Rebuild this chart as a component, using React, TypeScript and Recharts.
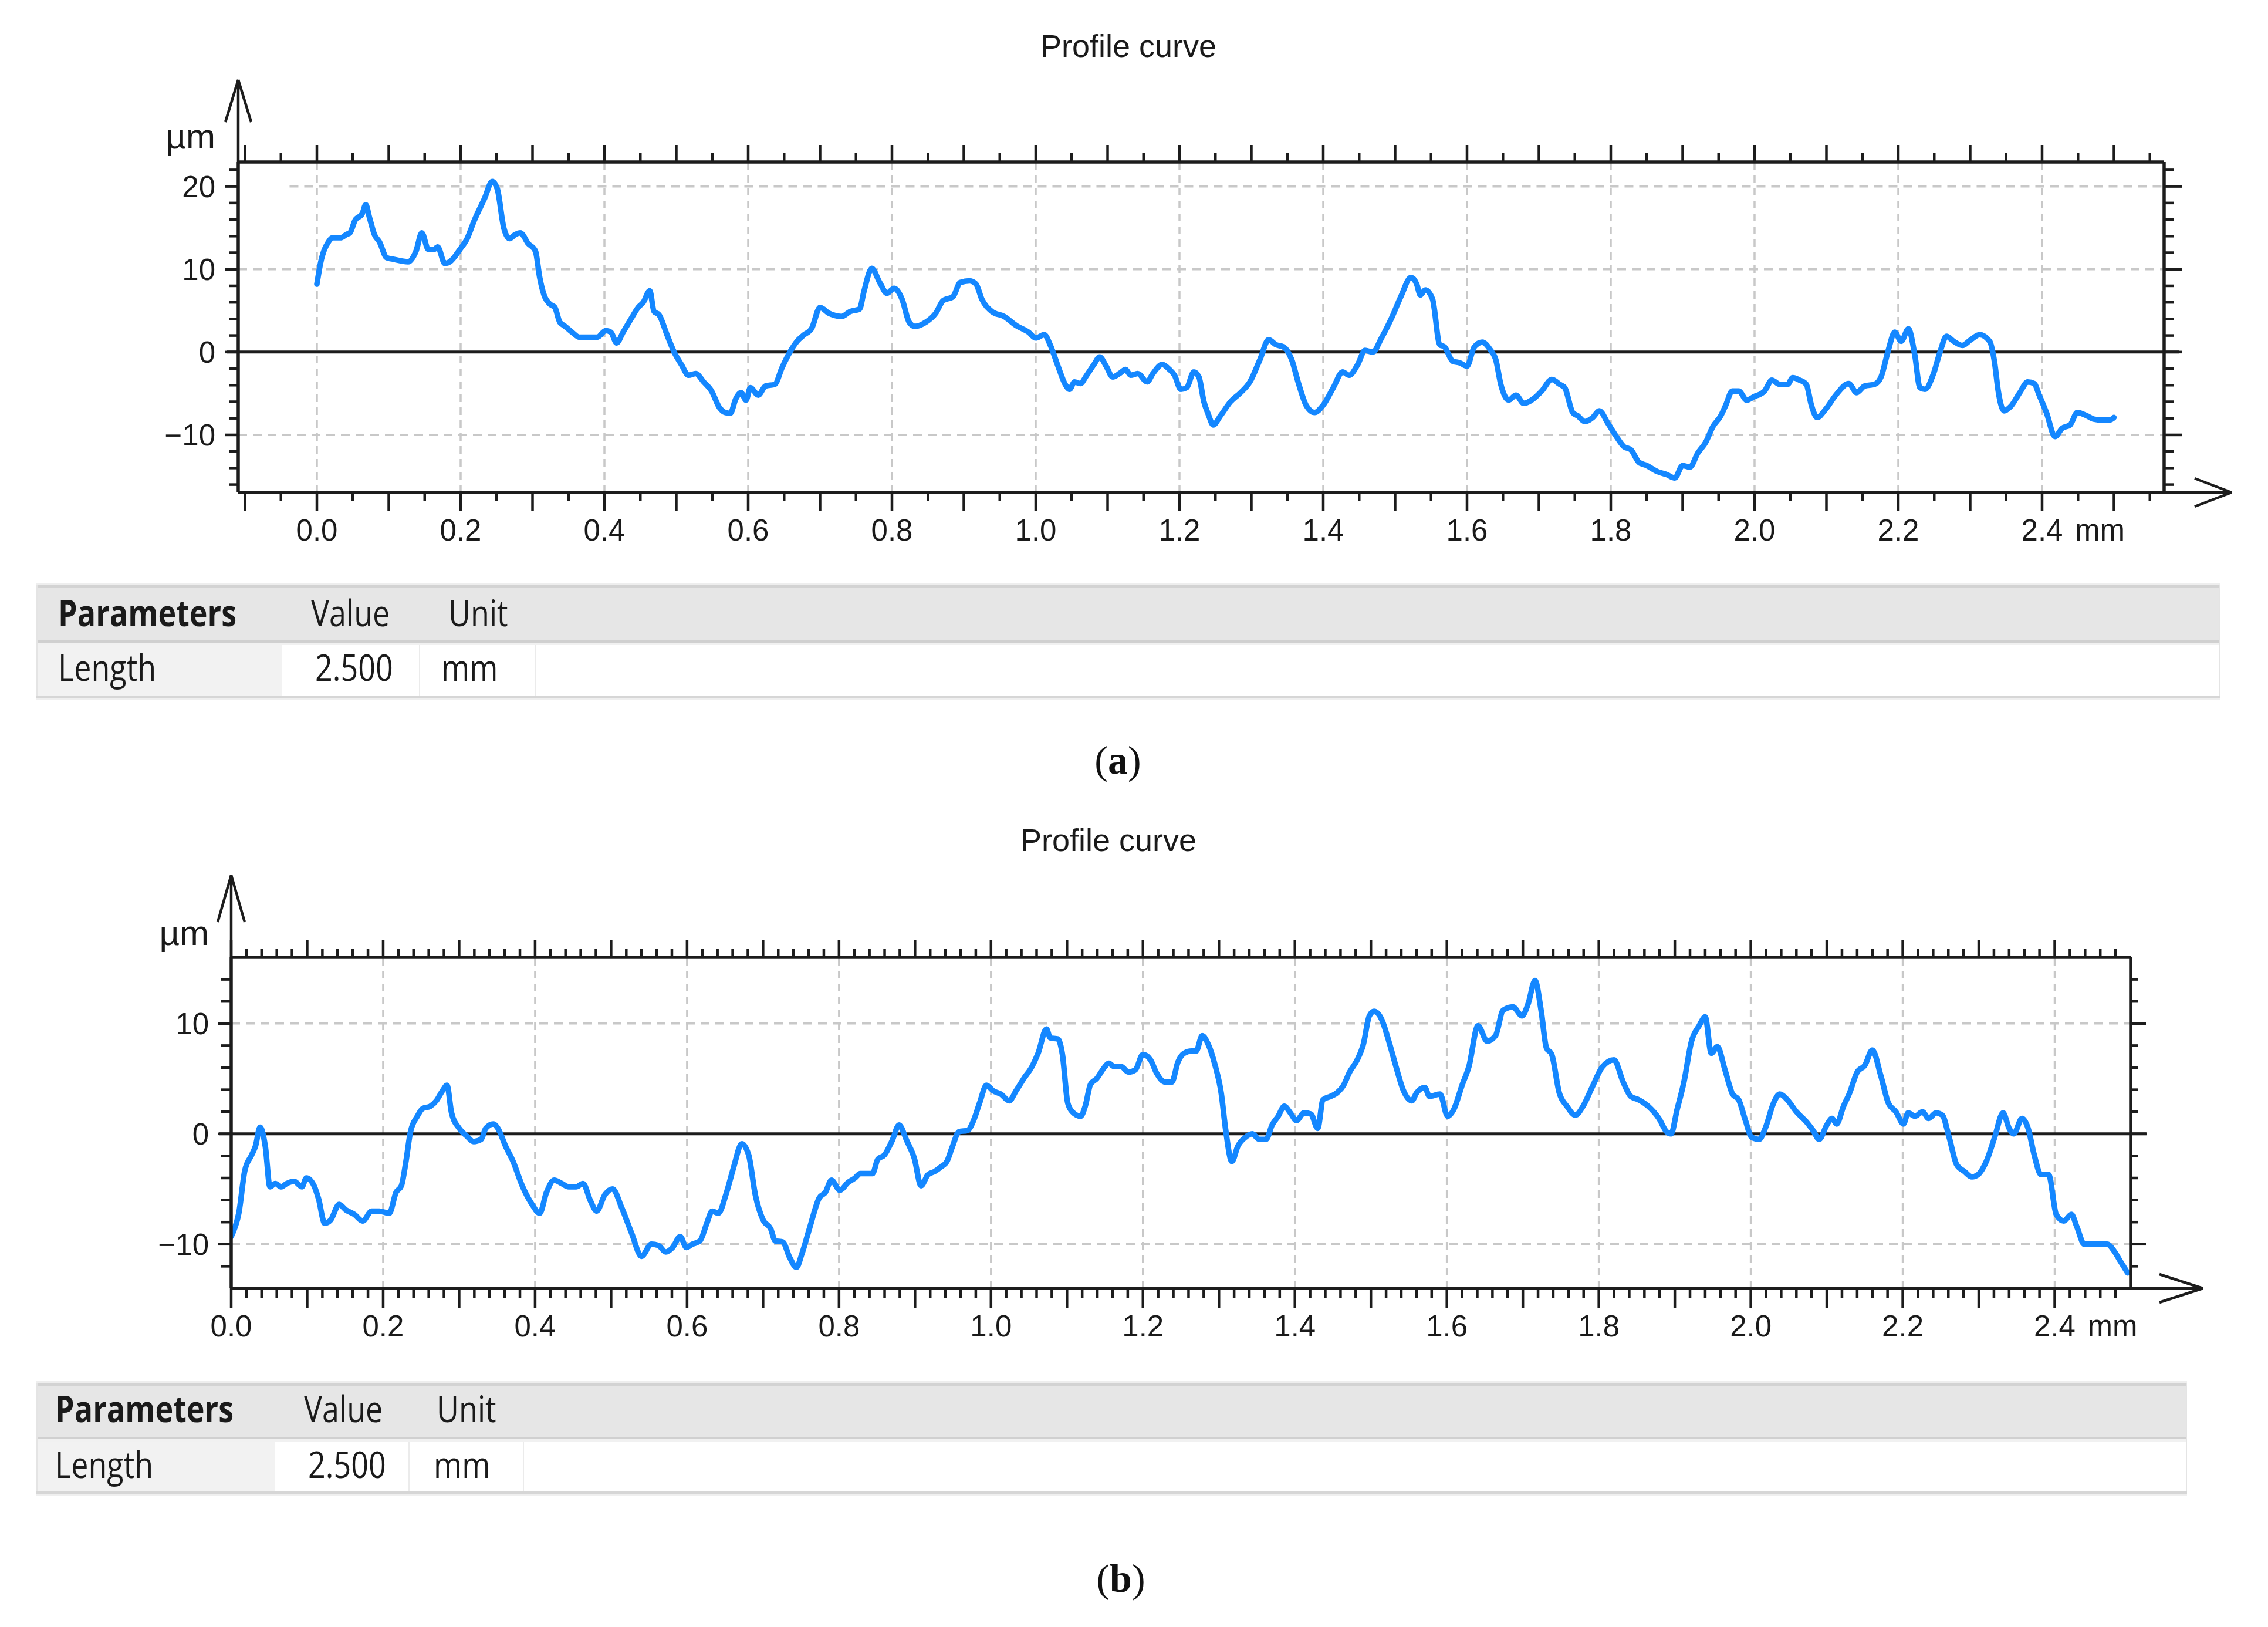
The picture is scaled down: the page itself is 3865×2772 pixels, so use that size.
import React from 'react';
import { LineChart, Line, XAxis, YAxis, ReferenceLine } from 'recharts';

const PAGE_W = 3865;
const PAGE_H = 2772;
const INK = '#1c1c1c';
const GRID = '#c8c8c8';
const BLUE = '#1487ff';
const AXIS_FONT = '"Liberation Sans", Arial, sans-serif';
const TABLE_FONT = '"Open Sans", "Noto Sans", sans-serif';

// profile (a): position in mm, height in µm
const profileAX = [
  0.0, 0.005, 0.016, 0.022, 0.033, 0.041, 0.046, 0.053, 0.063, 0.068, 0.073, 0.08, 0.087, 0.097, 0.107, 0.127,
  0.138, 0.146, 0.155, 0.163, 0.168, 0.178, 0.185, 0.199, 0.209, 0.219, 0.233, 0.244, 0.251, 0.26, 0.268, 0.276,
  0.283, 0.294, 0.304, 0.31, 0.316, 0.324, 0.331, 0.338, 0.344, 0.355, 0.365, 0.378, 0.39, 0.402, 0.409, 0.417,
  0.426, 0.439, 0.447, 0.454, 0.463, 0.469, 0.476, 0.487, 0.497, 0.507, 0.517, 0.527, 0.538, 0.549, 0.56, 0.568,
  0.575, 0.583, 0.59, 0.597, 0.603, 0.614, 0.624, 0.637, 0.647, 0.658, 0.668, 0.678, 0.688, 0.7, 0.712, 0.73,
  0.742, 0.755, 0.761, 0.772, 0.783, 0.793, 0.803, 0.814, 0.824, 0.832, 0.847, 0.861, 0.871, 0.885, 0.895, 0.908,
  0.917, 0.925, 0.939, 0.956, 0.973, 0.99, 1.0, 1.012, 1.02, 1.031, 1.041, 1.047, 1.054, 1.062, 1.071, 1.081,
  1.089, 1.098, 1.107, 1.118, 1.125, 1.132, 1.142, 1.155, 1.163, 1.176, 1.186, 1.193, 1.202, 1.21, 1.22, 1.227,
  1.234, 1.24, 1.247, 1.257, 1.271, 1.285, 1.298, 1.312, 1.324, 1.334, 1.345, 1.356, 1.366, 1.376, 1.388, 1.4,
  1.414, 1.427, 1.436, 1.448, 1.458, 1.469, 1.481, 1.495, 1.508, 1.522, 1.53, 1.535, 1.542, 1.552, 1.562, 1.569,
  1.58, 1.59, 1.6, 1.61, 1.621, 1.633, 1.64, 1.647, 1.658, 1.668, 1.679, 1.693, 1.704, 1.718, 1.729, 1.736,
  1.747, 1.754, 1.764, 1.775, 1.784, 1.796, 1.807, 1.818, 1.828, 1.839, 1.85, 1.864, 1.878, 1.889, 1.9, 1.91,
  1.921, 1.932, 1.942, 1.953, 1.96, 1.969, 1.978, 1.989, 1.999, 2.014, 2.024, 2.035, 2.046, 2.053, 2.063, 2.072,
  2.079, 2.087, 2.099, 2.113, 2.131, 2.142, 2.153, 2.167, 2.176, 2.186, 2.195, 2.204, 2.214, 2.223, 2.23, 2.237,
  2.249, 2.258, 2.267, 2.277, 2.289, 2.301, 2.313, 2.327, 2.334, 2.339, 2.347, 2.356, 2.369, 2.38, 2.389, 2.396,
  2.406, 2.418, 2.428, 2.439, 2.449, 2.46, 2.472, 2.483, 2.494, 2.5,
];
const profileAY = [
  8.2, 10.7, 13.3, 13.8, 13.8, 14.2, 14.4, 15.9, 16.7, 17.8, 16.3, 14.2, 13.3, 11.4, 11.2, 10.9,
  12.2, 14.4, 12.4, 12.4, 12.7, 10.7, 10.9, 12.4, 13.7, 15.9, 18.5, 20.6, 19.7, 15.0, 13.7, 14.2,
  14.4, 13.1, 12.2, 9.0, 6.9, 5.8, 5.4, 3.6, 3.2, 2.4, 1.8, 1.8, 1.8, 2.6, 2.4, 1.1,
  2.4, 4.3, 5.4, 6.0, 7.4, 4.9, 4.5, 2.1, 0.0, -1.5, -2.8, -2.6, -3.6, -4.7, -6.7, -7.3,
  -7.4, -5.6, -4.9, -5.8, -4.3, -5.2, -4.1, -3.9, -1.9, 0.0, 1.3, 2.1, 2.8, 5.4, 4.7, 4.3,
  4.9, 5.2, 7.3, 10.1, 8.4, 7.1, 7.7, 6.4, 3.6, 3.1, 3.6, 4.7, 6.2, 6.7, 8.4, 8.6,
  8.2, 6.4, 4.9, 4.3, 3.2, 2.4, 1.7, 2.1, 0.9, -1.7, -3.9, -4.5, -3.6, -3.8, -2.8, -1.5,
  -0.6, -1.7, -3.0, -2.5, -2.1, -2.8, -2.6, -3.6, -2.6, -1.5, -2.1, -2.8, -4.5, -4.3, -2.4, -3.0,
  -6.0, -7.5, -8.8, -7.7, -6.0, -4.9, -3.6, -0.9, 1.5, 0.9, 0.6, -0.9, -3.9, -6.4, -7.3, -6.4,
  -4.3, -2.4, -2.8, -1.5, 0.2, 0.0, 1.7, 4.1, 6.7, 9.0, 8.2, 6.9, 7.5, 6.4, 0.9, 0.6,
  -1.1, -1.3, -1.7, 0.6, 1.2, 0.2, -0.9, -3.9, -5.8, -5.2, -6.2, -5.6, -4.7, -3.3, -3.9, -4.3,
  -7.3, -7.7, -8.4, -7.9, -7.1, -8.6, -10.1, -11.4, -11.8, -13.3, -13.7, -14.4, -14.8, -15.2, -13.7, -13.9,
  -12.2, -10.9, -9.0, -7.7, -6.4, -4.7, -4.7, -5.8, -5.4, -4.7, -3.4, -3.9, -3.9, -3.1, -3.4, -3.9,
  -6.4, -7.9, -6.9, -5.2, -3.8, -4.9, -4.1, -3.9, -3.0, 0.2, 2.4, 1.3, 2.8, -0.4, -4.3, -4.5,
  -2.6, 0.0, 1.9, 1.3, 0.8, 1.5, 2.1, 1.3, -1.3, -4.7, -7.1, -6.6, -4.9, -3.6, -3.8, -5.2,
  -7.3, -10.2, -9.2, -8.8, -7.3, -7.6, -8.1, -8.2, -8.2, -7.9,
];

// profile (b)
const profileBX = [
  0.0, 0.002, 0.01, 0.018, 0.027, 0.032, 0.038, 0.045, 0.051, 0.058, 0.066, 0.073, 0.083, 0.093, 0.099, 0.109,
  0.115, 0.123, 0.131, 0.142, 0.151, 0.162, 0.173, 0.185, 0.195, 0.208, 0.217, 0.224, 0.23, 0.236, 0.245, 0.252,
  0.262, 0.27, 0.278, 0.284, 0.29, 0.3, 0.31, 0.319, 0.329, 0.335, 0.345, 0.351, 0.361, 0.371, 0.383, 0.396,
  0.406, 0.415, 0.425, 0.435, 0.444, 0.454, 0.463, 0.473, 0.481, 0.492, 0.502, 0.514, 0.527, 0.54, 0.553, 0.562,
  0.572, 0.581, 0.591, 0.599, 0.607, 0.617, 0.626, 0.633, 0.641, 0.652, 0.661, 0.672, 0.681, 0.69, 0.7, 0.71,
  0.716, 0.726, 0.735, 0.744, 0.751, 0.761, 0.774, 0.782, 0.79, 0.801, 0.812, 0.821, 0.828, 0.844, 0.851, 0.86,
  0.87, 0.879, 0.889, 0.899, 0.908, 0.917, 0.926, 0.934, 0.942, 0.949, 0.958, 0.969, 0.977, 0.985, 0.994, 1.003,
  1.013, 1.024, 1.033, 1.043, 1.054, 1.062, 1.073, 1.078, 1.088, 1.094, 1.101, 1.107, 1.118, 1.124, 1.131, 1.139,
  1.149, 1.155, 1.162, 1.171, 1.181, 1.19, 1.2, 1.21, 1.218, 1.229, 1.238, 1.246, 1.254, 1.264, 1.27, 1.278,
  1.286, 1.295, 1.303, 1.309, 1.317, 1.325, 1.335, 1.344, 1.353, 1.362, 1.37, 1.378, 1.386, 1.394, 1.402, 1.412,
  1.421, 1.43, 1.437, 1.447, 1.455, 1.464, 1.472, 1.482, 1.49, 1.498, 1.504, 1.514, 1.524, 1.533, 1.543, 1.554,
  1.56, 1.571, 1.577, 1.591, 1.601, 1.609, 1.62, 1.629, 1.641, 1.653, 1.664, 1.674, 1.687, 1.699, 1.707, 1.716,
  1.724, 1.731, 1.738, 1.748, 1.758, 1.769, 1.78, 1.791, 1.805, 1.82, 1.832, 1.842, 1.852, 1.865, 1.879, 1.889,
  1.895, 1.903, 1.912, 1.922, 1.932, 1.94, 1.948, 1.956, 1.966, 1.976, 1.984, 1.993, 2.001, 2.011, 2.019, 2.03,
  2.038, 2.048, 2.06, 2.073, 2.082, 2.09, 2.1, 2.107, 2.113, 2.122, 2.13, 2.14, 2.15, 2.16, 2.171, 2.181,
  2.191, 2.201, 2.207, 2.216, 2.226, 2.234, 2.244, 2.252, 2.261, 2.271, 2.281, 2.291, 2.299, 2.31, 2.321, 2.332,
  2.34, 2.346, 2.357, 2.365, 2.373, 2.382, 2.392, 2.402, 2.412, 2.422, 2.429, 2.439, 2.469, 2.478, 2.486, 2.496,
];
const profileBY = [
  -9.3, -9.0, -7.2, -3.3, -1.9, -1.1, 0.6, -1.2, -4.8, -4.5, -4.8, -4.5, -4.3, -4.8, -4.0, -4.7,
  -5.9, -8.1, -7.8, -6.4, -6.9, -7.3, -7.9, -7.0, -7.0, -7.2, -5.3, -4.7, -2.5, 0.2, 1.6, 2.3,
  2.5, 3.0, 3.9, 4.4, 1.9, 0.5, -0.2, -0.7, -0.5, 0.5, 0.9, 0.5, -1.1, -2.5, -4.7, -6.4,
  -7.2, -5.3, -4.2, -4.5, -4.8, -4.8, -4.5, -6.1, -7.0, -5.5, -5.0, -6.7, -9.0, -11.1, -10.0, -10.1,
  -10.7, -10.3, -9.3, -10.3, -10.0, -9.7, -8.1, -7.0, -7.2, -5.3, -3.1, -0.9, -1.9, -5.6, -7.8, -8.6,
  -9.7, -9.8, -11.2, -12.1, -10.9, -8.6, -5.8, -5.3, -4.2, -5.1, -4.4, -4.0, -3.6, -3.6, -2.3, -1.9,
  -0.6, 0.8, -0.6, -2.2, -4.7, -3.7, -3.4, -3.0, -2.5, -1.2, 0.2, 0.3, 1.2, 2.8, 4.4, 3.9,
  3.6, 3.0, 3.9, 5.0, 6.1, 7.3, 9.5, 8.7, 8.6, 7.2, 2.8, 2.0, 1.6, 2.5, 4.5, 5.0,
  6.0, 6.4, 6.1, 6.1, 5.6, 5.8, 7.2, 6.7, 5.5, 4.7, 4.7, 6.5, 7.3, 7.5, 7.5, 8.9,
  8.1, 6.2, 3.7, 0.3, -2.5, -1.1, -0.3, 0.0, -0.5, -0.5, 0.8, 1.6, 2.5, 1.9, 1.2, 1.9,
  1.8, 0.5, 3.1, 3.4, 3.7, 4.4, 5.6, 6.7, 8.1, 10.7, 11.1, 10.4, 8.3, 6.1, 3.9, 3.0,
  3.7, 4.2, 3.4, 3.6, 1.6, 2.2, 4.4, 6.1, 9.8, 8.4, 8.9, 11.2, 11.5, 10.7, 11.8, 13.9,
  11.2, 7.8, 7.2, 3.7, 2.5, 1.7, 2.6, 4.2, 6.1, 6.7, 4.7, 3.4, 3.1, 2.5, 1.4, 0.2,
  0.0, 2.2, 4.7, 8.4, 9.8, 10.6, 7.3, 7.9, 5.8, 3.6, 3.1, 1.2, -0.3, -0.5, 0.5, 2.8,
  3.6, 3.1, 2.0, 1.1, 0.3, -0.5, 0.8, 1.4, 0.9, 2.5, 3.7, 5.6, 6.2, 7.6, 5.3, 2.8,
  2.0, 0.9, 1.9, 1.6, 2.0, 1.4, 1.9, 1.7, -0.3, -2.8, -3.4, -3.9, -3.7, -2.5, -0.3, 1.9,
  0.5, 0.0, 1.4, 0.5, -1.9, -3.7, -3.7, -7.3, -7.9, -7.3, -8.4, -10.0, -10.0, -10.6, -11.5, -12.6,
];

const gridXA = [0, 0.2, 0.4, 0.6, 0.8, 1.0, 1.2, 1.4, 1.6, 1.8, 2.0, 2.2, 2.4];
const gridYA = [20, 10, -10];
const gridStartA = [-0.038, null, null];
const gridXB = [0.2, 0.4, 0.6, 0.8, 1.0, 1.2, 1.4, 1.6, 1.8, 2.0, 2.2, 2.4];
const gridYB = [10, -10];
const gridStartB = [null, null];

const tableHead = ['Parameters', 'Value', 'Unit'];
const tableRow = ['Length', '2.500', 'mm'];

const steps = (from: number, to: number, step: number) => {
  const out: number[] = [];
  const n = Math.round((to - from) / step);
  for (let i = 0; i <= n; i++) out.push(Math.round((from + i * step) * 1000) / 1000);
  return out;
};
const isMultiple = (v: number, step: number) => Math.abs(v / step - Math.round(v / step)) < 1e-6;

const xTicksA = steps(-0.1, 2.55, 0.05);
const yTicksA = steps(-16, 22, 2);
const xTicksB = steps(0, 2.48, 0.02);
const yTicksB = steps(-12, 14, 2);

const xLabel = (v: number) => (isMultiple(v, 0.2) && v > -1e-6 && v < 2.41 ? v.toFixed(1) : null);
const yLabel = (v: number) => (isMultiple(v, 10) ? (v < 0 ? '\u2212' + Math.abs(v) : String(v)) : null);
const xMajor = (v: number) => isMultiple(v, 0.1);
const yMajor = (v: number) => isMultiple(v, 10);

const chartA = {
  top: 0,
  height: 1000,
  plot: { left: 406, right: 3688, top: 276, bottom: 839 },
  xDomain: [-0.1094, 2.5698],
  yDomain: [-16.95, 22.95],
  tickLen: { bottom: [31, 15], top: [29, 16], left: [22, 16], right: [30, 17] },
  yLabelGap: 39,
  yArrow: { len: 140, back: 72, half: 22 },
  xArrow: { len: 115, back: 63, half: 24 },
  zeroExt: [20, 26],
};
const chartB = {
  top: 1300,
  height: 1000,
  plot: { left: 394, right: 3631, top: 1631, bottom: 2195 },
  xDomain: [0, 2.5],
  yDomain: [-14, 16],
  tickLen: { bottom: [33, 17], top: [29, 14], left: [23, 17], right: [26, 13] },
  yLabelGap: 38,
  yArrow: { len: 140, back: 80, half: 23 },
  xArrow: { len: 123, back: 74, half: 24 },
  zeroExt: [21, 27],
};

function FrameTick(props: any) {
  const { x = 0, y = 0, payload, tickSide, lens, majorTest, labelFn, labelGap, unitLabel } = props;
  const v: number = payload ? payload.value : 0;
  const len = majorTest(v) ? lens[0] : lens[1];
  const text = labelFn ? labelFn(v) : null;
  let x2 = x;
  let y2 = y;
  if (tickSide === 'bottom') y2 = y + len;
  if (tickSide === 'top') y2 = y - len;
  if (tickSide === 'left') x2 = x - len;
  if (tickSide === 'right') x2 = x + len;
  const textStyle = { fontFamily: AXIS_FONT, fontSize: 51, fill: '#1a1a1a' };
  return (
    <g>
      <line x1={x} y1={y} x2={x2} y2={y2} stroke={INK} strokeWidth={4.5} />
      {text !== null && tickSide === 'bottom' && (
        <text x={x} y={y + 82} textAnchor="middle" style={textStyle}>{text}</text>
      )}
      {text !== null && tickSide === 'bottom' && unitLabel && Math.abs(v - 2.4) < 1e-6 && (
        <text x={x + 56} y={y + 82} textAnchor="start" style={textStyle}>{unitLabel}</text>
      )}
      {text !== null && tickSide === 'left' && (
        <text x={x - labelGap} y={y + 18} textAnchor="end" style={textStyle}>{text}</text>
      )}
    </g>
  );
}

function ProfileChart({ cfg, xs, ys, gridX, gridY, gridStart, xTicks, yTicks }: any) {
  const data = xs.map((x: number, i: number) => ({ x, y: ys[i] }));
  const { plot, xDomain, yDomain, tickLen } = cfg;
  const leftW = 200;
  const rightW = 80;
  const topH = 60;
  const bottomH = 100;
  const margin = {
    left: plot.left - leftW,
    right: PAGE_W - plot.right - rightW,
    top: plot.top - cfg.top - topH,
    bottom: cfg.top + cfg.height - plot.bottom - bottomH,
  };
  const [x0, x1] = xDomain;
  const [y0, y1] = yDomain;
  const ux = (x1 - x0) / (plot.right - plot.left);
  const uy = (y1 - y0) / (plot.bottom - plot.top);
  const yTip = y1 + cfg.yArrow.len * uy;
  const xTip = x1 + cfg.xArrow.len * ux;
  const arrowSegs = [
    [{ x: x0, y: y1 }, { x: x0, y: yTip }],
    [{ x: x0 - cfg.yArrow.half * ux, y: yTip - cfg.yArrow.back * uy }, { x: x0, y: yTip }],
    [{ x: x0 + cfg.yArrow.half * ux, y: yTip - cfg.yArrow.back * uy }, { x: x0, y: yTip }],
    [{ x: x1, y: y0 }, { x: xTip, y: y0 }],
    [{ x: xTip - cfg.xArrow.back * ux, y: y0 + cfg.xArrow.half * uy }, { x: xTip, y: y0 }],
    [{ x: xTip - cfg.xArrow.back * ux, y: y0 - cfg.xArrow.half * uy }, { x: xTip, y: y0 }],
  ];
  const axisLine = { stroke: INK, strokeWidth: 5.5 };

  return (
    <div style={{ position: 'absolute', left: 0, top: cfg.top }}>
      <LineChart width={PAGE_W} height={cfg.height} data={data} margin={margin}>
        <XAxis
          xAxisId="b" type="number" dataKey="x" domain={xDomain} allowDataOverflow ticks={xTicks}
          interval={0} tickSize={0} tickMargin={0} tickLine={false} axisLine={axisLine} height={bottomH}
          tick={<FrameTick tickSide="bottom" lens={tickLen.bottom} majorTest={xMajor} labelFn={xLabel} unitLabel="mm" />}
        />
        <XAxis
          xAxisId="t" orientation="top" type="number" dataKey="x" domain={xDomain} allowDataOverflow ticks={xTicks}
          interval={0} tickSize={0} tickMargin={0} tickLine={false} axisLine={axisLine} height={topH}
          tick={<FrameTick tickSide="top" lens={tickLen.top} majorTest={xMajor} />}
        />
        <YAxis
          yAxisId="l" type="number" domain={yDomain} allowDataOverflow ticks={yTicks}
          interval={0} tickSize={0} tickMargin={0} tickLine={false} axisLine={axisLine} width={leftW}
          tick={<FrameTick tickSide="left" lens={tickLen.left} majorTest={yMajor} labelFn={yLabel} labelGap={cfg.yLabelGap} />}
        />
        <YAxis
          yAxisId="r" orientation="right" type="number" domain={yDomain} allowDataOverflow ticks={yTicks}
          interval={0} tickSize={0} tickMargin={0} tickLine={false} axisLine={axisLine} width={rightW}
          tick={<FrameTick tickSide="right" lens={tickLen.right} majorTest={yMajor} />}
        />
        {gridX.map((v: number) => (
          <ReferenceLine key={'gx' + v} xAxisId="b" yAxisId="l" x={v} stroke={GRID} strokeWidth={3.5} strokeDasharray="13 9" />
        ))}
        {gridY.map((v: number, i: number) => (
          <ReferenceLine
            key={'gy' + v} xAxisId="b" yAxisId="l" stroke={GRID} strokeWidth={3.5} strokeDasharray="15 10"
            segment={[{ x: gridStart[i] ?? x0, y: v }, { x: x1, y: v }]}
          />
        ))}
        <ReferenceLine
          xAxisId="b" yAxisId="l" ifOverflow="visible" stroke={INK} strokeWidth={5}
          segment={[{ x: x0 - cfg.zeroExt[0] * ux, y: 0 }, { x: x1 + cfg.zeroExt[1] * ux, y: 0 }]}
        />
        {arrowSegs.map((seg, i) => (
          <ReferenceLine key={'ar' + i} xAxisId="b" yAxisId="l" ifOverflow="visible" stroke={INK} strokeWidth={4.5} segment={seg} />
        ))}
        <Line
          xAxisId="b" yAxisId="l" type="monotone" dataKey="y" stroke={BLUE} strokeWidth={9.5} dot={false}
          strokeLinejoin="round" strokeLinecap="round" isAnimationActive={false}
        />
      </LineChart>
    </div>
  );
}

function ParamTable({ t }: any) {
  const w = t.right - t.left;
  const rowTop = t.headBottom + 8;
  const bold = { fontFamily: TABLE_FONT, fontSize: 62, fontWeight: 700, fill: '#1a1a1a' };
  const normal = { fontFamily: TABLE_FONT, fontSize: 62, fontWeight: 400, fill: '#1a1a1a' };
  return (
    <g>
      <rect x={t.left} y={t.headTop - 4} width={w} height={4} fill="#eeeeee" />
      <rect x={t.left} y={t.headTop} width={w} height={5} fill="#d3d3d3" />
      <rect x={t.left} y={t.headTop + 5} width={w} height={t.headBottom - t.headTop - 5} fill="#e6e6e6" />
      <rect x={t.left} y={t.headBottom} width={w} height={4} fill="#d0d0d0" />
      <rect x={t.left} y={t.headBottom + 4} width={w} height={4} fill="#f1f1f1" />
      <rect x={t.left} y={rowTop} width={t.cols[0] - t.left} height={t.rowBottom - rowTop} fill="#f2f2f2" />
      <rect x={t.cols[0]} y={rowTop} width={t.right - t.cols[0]} height={t.rowBottom - rowTop} fill="#ffffff" />
      {t.cols.slice(1).map((c: number) => (
        <rect key={c} x={c - 1} y={rowTop} width={2} height={t.rowBottom - rowTop} fill="#ebebeb" />
      ))}
      <rect x={t.left} y={t.rowBottom} width={w} height={5} fill="#d6d6d6" />
      <rect x={t.left} y={t.rowBottom + 5} width={w} height={3} fill="#efefef" />
      <rect x={t.left} y={t.headTop} width={2} height={t.rowBottom - t.headTop} fill="#e4e4e4" />
      <rect x={t.right - 2} y={t.headTop} width={2} height={t.rowBottom - t.headTop} fill="#e4e4e4" />
      {tableHead.map((s, i) => (
        <text key={'h' + i} transform={`translate(${t.headX[i]},${t.headBase}) scale(0.84,1)`} style={i === 0 ? bold : normal}>{s}</text>
      ))}
      {tableRow.map((s, i) => (
        <text key={'r' + i} transform={`translate(${t.rowX[i]},${t.rowBase}) scale(0.84,1)`} style={normal}>{s}</text>
      ))}
    </g>
  );
}

const tableA = {
  left: 62, right: 3784, cols: [481, 715, 912], headTop: 997, headBottom: 1091, rowBottom: 1185,
  headBase: 1067, rowBase: 1160, headX: [99, 530, 764], rowX: [99, 537, 752],
};
const tableB = {
  left: 62, right: 3727, cols: [468, 697, 892], headTop: 2357, headBottom: 2448, rowBottom: 2540,
  headBase: 2423, rowBase: 2518, headX: [94, 518, 744], rowX: [94, 525, 739],
};

export default function App() {
  const title = { fontFamily: AXIS_FONT, fontSize: 54, fill: '#1a1a1a' };
  const unit = { fontFamily: AXIS_FONT, fontSize: 60, fill: '#1a1a1a' };
  const cap = { fontFamily: '"Liberation Serif", "DejaVu Serif", serif', fontSize: 68, fill: '#111' };
  return (
    <div style={{ position: 'absolute', left: 0, top: 0, width: PAGE_W, height: PAGE_H, background: '#ffffff', overflow: 'hidden' }}>
      <ProfileChart cfg={chartA} xs={profileAX} ys={profileAY} gridX={gridXA} gridY={gridYA} gridStart={gridStartA} xTicks={xTicksA} yTicks={yTicksA} />
      <ProfileChart cfg={chartB} xs={profileBX} ys={profileBY} gridX={gridXB} gridY={gridYB} gridStart={gridStartB} xTicks={xTicksB} yTicks={yTicksB} />
      <svg width={PAGE_W} height={PAGE_H} style={{ position: 'absolute', left: 0, top: 0, pointerEvents: 'none' }}>
        <text x={1923} y={97} textAnchor="middle" style={title}>Profile curve</text>
        <text x={1889} y={1450} textAnchor="middle" style={title}>Profile curve</text>
        <text x={367} y={253} textAnchor="end" style={unit}>µm</text>
        <text x={356} y={1610} textAnchor="end" style={unit}>µm</text>
        <ParamTable t={tableA} />
        <ParamTable t={tableB} />
        <text x={1905} y={1318} textAnchor="middle" style={cap}>(<tspan fontWeight={700}>a</tspan>)</text>
        <text x={1910} y={2712} textAnchor="middle" style={cap}>(<tspan fontWeight={700}>b</tspan>)</text>
      </svg>
    </div>
  );
}
